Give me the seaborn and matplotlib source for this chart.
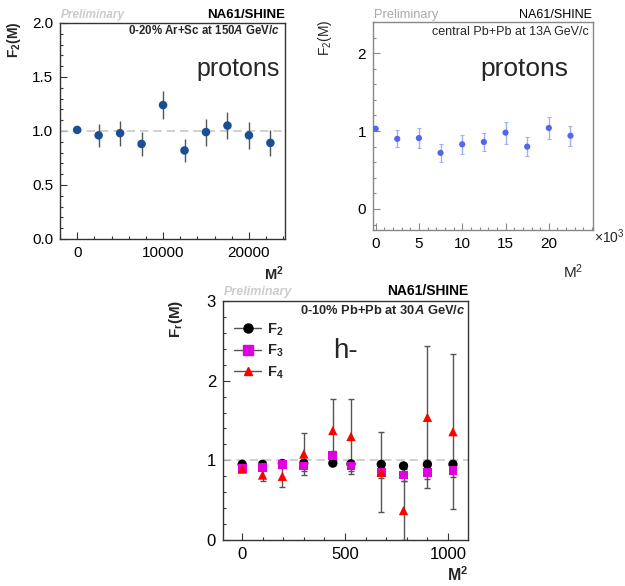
import matplotlib
matplotlib.use("Agg")
import matplotlib.pyplot as plt
import seaborn as sns
import pandas as pd
from matplotlib.lines import Line2D
from matplotlib.ticker import MultipleLocator, FormatStrFormatter, FixedLocator

# ---------------- data ----------------
# top-left: 0-20% Ar+Sc at 150A GeV/c, protons
arsc_m2 = [0, 2500, 5000, 7500, 10000, 12500, 15000, 17500, 20000, 22500]
arsc_f2 = [1.01, 0.96, 0.98, 0.88, 1.24, 0.82, 0.99, 1.05, 0.96, 0.89]
arsc_err = [0.01, 0.105, 0.115, 0.11, 0.13, 0.11, 0.125, 0.125, 0.125, 0.12]

# top-right: central Pb+Pb at 13A GeV/c, protons (x in units of 10^3)
pb13_m2k = [0, 2.5, 5, 7.5, 10, 12.5, 15, 17.5, 20, 22.5]
pb13_f2 = [1.03, 0.90, 0.91, 0.72, 0.83, 0.86, 0.98, 0.80, 1.04, 0.94]
pb13_err = [0.01, 0.11, 0.125, 0.12, 0.12, 0.12, 0.14, 0.12, 0.14, 0.13]
pb13_xticks = [0, 5, 10, 15, 20]

# bottom: 0-10% Pb+Pb at 30A GeV/c, h-
pb30_m2 = [1, 100, 196, 300, 441, 529, 676, 784, 900, 1024]
pb30_f2 = [0.95, 0.95, 0.96, 0.965, 0.965, 0.955, 0.95, 0.93, 0.95, 0.95]
pb30_f2_err = [0.01, 0.01, 0.015, 0.02, 0.02, 0.02, 0.03, 0.03, 0.03, 0.04]
pb30_f3 = [0.90, 0.91, 0.95, 0.93, 1.06, 0.93, 0.85, 0.815, 0.85, 0.875]
pb30_f3_err = [0.02, 0.03, 0.04, 0.06, 0.06, 0.07, 0.07, 0.07, 0.08, 0.08]
pb30_f4 = [0.89, 0.815, 0.80, 1.08, 1.375, 1.30, 0.85, 0.37, 1.54, 1.36]
pb30_f4_err = [0.03, 0.07, 0.14, 0.26, 0.40, 0.47, 0.50, 0.37, 0.89, 0.97]

series_labels = ["F$_\\mathbf{2}$", "F$_\\mathbf{3}$", "F$_\\mathbf{4}$"]

# ---------------- style ----------------
sns.set_style("ticks")
plt.rcParams["font.family"] = ["Liberation Sans", "DejaVu Sans"]
plt.rcParams["mathtext.fontset"] = "custom"
plt.rcParams["mathtext.rm"] = "Liberation Sans"
plt.rcParams["mathtext.bf"] = "Liberation Sans:bold"
plt.rcParams["mathtext.it"] = "Liberation Sans:italic:bold"
plt.rcParams["mathtext.sf"] = "Liberation Sans:italic"

W, H = 625, 586
fig = plt.figure(figsize=(W / 100, H / 100), dpi=100)


def add_ax(l, t, r, b):
    return fig.add_axes([l / W, 1 - b / H, (r - l) / W, (b - t) / H])


def ftext(x, y, s, **kw):
    fig.text(x / W, 1 - y / H, s, **kw)


def style_ax(ax, spine_col, tick_fs):
    for sp in ax.spines.values():
        sp.set_visible(True)
        sp.set_color(spine_col)
        sp.set_linewidth(1.0)
    ax.tick_params(which="both", direction="in", top=False, right=False,
                   colors=spine_col, labelcolor="black", labelsize=tick_fs)
    ax.tick_params(which="major", length=5, width=0.8, pad=5)
    ax.tick_params(which="minor", length=2.5, width=0.8)
    ax.set_xlabel("")
    ax.set_ylabel("")


# ---------- top-left ----------
ax1 = add_ax(60, 23, 285, 239)
df1 = pd.DataFrame({"M2": arsc_m2, "F2": arsc_f2})
ax1.axhline(1.0, color="#c8c8c8", lw=1.2, ls=(0, (5, 3)), zorder=1)
ax1.errorbar(arsc_m2, arsc_f2, yerr=arsc_err, fmt="none", ecolor="#555555",
             elinewidth=1.0, capsize=0, zorder=2)
sns.scatterplot(data=df1, x="M2", y="F2", ax=ax1, color="#1b4f94", s=38,
                edgecolor="none", zorder=3, legend=False)
ax1.set_xlim(-2000, 24200)
ax1.set_ylim(0, 2.0)
ax1.xaxis.set_major_locator(MultipleLocator(10000))
ax1.xaxis.set_minor_locator(MultipleLocator(2000))
ax1.yaxis.set_major_locator(MultipleLocator(0.5))
ax1.yaxis.set_minor_locator(MultipleLocator(0.1))
ax1.yaxis.set_major_formatter(FormatStrFormatter("%.1f"))
style_ax(ax1, "#333333", 11)
ftext(61, 15, "Preliminary", color="#cccccc", fontsize=8.5, fontweight="bold",
      fontstyle="italic", va="center", ha="left")
ftext(285, 15, "NA61/SHINE", color="black", fontsize=9.5, fontweight="bold",
      va="center", ha="right")
ftext(280, 31, "0-20% Ar+Sc at 150$\\mathit{A}$ GeV/$\\mathit{c}$", fontsize=8.3,
      fontweight="bold", va="center", ha="right")
ftext(280, 69, "protons", fontsize=18, va="center", ha="right")
ftext(14, 22, "F$_\\mathbf{2}$(M)", fontsize=10, fontweight="bold", rotation=90,
      va="top", ha="center")
ftext(284, 274, "M$^\\mathbf{2}$", fontsize=10.5, fontweight="bold",
      va="center", ha="right")

# ---------- top-right ----------
ax2 = add_ax(373, 22, 593, 230)
df2 = pd.DataFrame({"M2k": pb13_m2k, "F2": pb13_f2})
ax2.errorbar(pb13_m2k, pb13_f2, yerr=pb13_err, fmt="none", ecolor="#9fb2ea",
             elinewidth=1.0, capsize=1.5, capthick=0.8, zorder=2)
sns.scatterplot(data=df2, x="M2k", y="F2", ax=ax2, color="#5566ee", s=20,
                edgecolor="none", zorder=3, legend=False)
ax2.set_xlim(-0.3, 25.1)
ax2.set_ylim(-0.27, 2.4)
ax2.xaxis.set_major_locator(FixedLocator(pb13_xticks))
ax2.xaxis.set_minor_locator(MultipleLocator(1))
ax2.yaxis.set_major_locator(MultipleLocator(1))
ax2.yaxis.set_minor_locator(MultipleLocator(0.2))
style_ax(ax2, "#888888", 11)
ftext(374, 15, "Preliminary", color="#aaaaaa", fontsize=9.3, va="center", ha="left")
ftext(592, 15, "NA61/SHINE", color="black", fontsize=9, va="center", ha="right")
ftext(589, 32, "central Pb+Pb at 13A GeV/c", fontsize=9, va="center", ha="right")
ftext(568, 69, "protons", fontsize=19, va="center", ha="right")
ftext(325, 20, "F$_\\mathrm{2}$(M)", fontsize=10, rotation=90, va="top", ha="center")
ftext(594, 237, "×10$^\\mathrm{3}$", fontsize=10, va="center", ha="left")
ftext(583, 272, "M$^\\mathrm{2}$", fontsize=11, va="center", ha="right")

# ---------- bottom ----------
ax3 = add_ax(223, 301, 468, 540)
ax3.axhline(1.0, color="#c8c8c8", lw=1.2, ls=(0, (5, 3)), zorder=1)
specs = [
    (pb30_f2, pb30_f2_err, "black", "o", 45),
    (pb30_f3, pb30_f3_err, "#e000e0", "s", 40),
    (pb30_f4, pb30_f4_err, "#ff0000", "^", 45),
]
handles = []
for (vals, errs, col, mk, sz), lab in zip(specs, series_labels):
    ax3.errorbar(pb30_m2, vals, yerr=errs, fmt="none", ecolor="#555555",
                 elinewidth=1.0, capsize=2.5, capthick=1.0, zorder=2)
for (vals, errs, col, mk, sz), lab in zip(specs, series_labels):
    d = pd.DataFrame({"M2": pb30_m2, "F": vals})
    sns.scatterplot(data=d, x="M2", y="F", ax=ax3, color=col, marker=mk, s=sz,
                    edgecolor="none", zorder=3, legend=False)
    handles.append(Line2D([], [], color="#555555", lw=1.0, marker=mk,
                          markerfacecolor=col, markeredgecolor=col,
                          markersize=6.5 if mk != "^" else 6, label=lab))
ax3.set_xlim(-92, 1097)
ax3.set_ylim(0, 3)
ax3.xaxis.set_major_locator(MultipleLocator(500))
ax3.xaxis.set_minor_locator(MultipleLocator(100))
ax3.yaxis.set_major_locator(MultipleLocator(1))
ax3.yaxis.set_minor_locator(MultipleLocator(0.2))
style_ax(ax3, "#333333", 12)
leg = ax3.legend(handles=handles, loc="upper left", bbox_to_anchor=(0.02, 0.94),
                 frameon=False, fontsize=10.5, handlelength=1.9,
                 handletextpad=0.4, labelspacing=0.35, borderaxespad=0)
for t in leg.get_texts():
    t.set_fontweight("bold")
ftext(224, 292, "Preliminary", color="#cccccc", fontsize=9, fontweight="bold",
      fontstyle="italic", va="center", ha="left")
ftext(468, 291, "NA61/SHINE", color="black", fontsize=10, fontweight="bold",
      va="center", ha="right")
ftext(465, 310, "0-10% Pb+Pb at 30$\\mathit{A}$ GeV/$\\mathit{c}$", fontsize=9.3,
      fontweight="bold", va="center", ha="right")
ftext(333, 351, "h-", fontsize=20, va="center", ha="left")
ftext(176, 300, "F$_\\mathbf{r}$(M)", fontsize=11, fontweight="bold", rotation=90,
      va="top", ha="center")
ftext(468, 575, "M$^\\mathbf{2}$", fontsize=11.5, fontweight="bold",
      va="center", ha="right")

fig.savefig("out.png", dpi=100)
